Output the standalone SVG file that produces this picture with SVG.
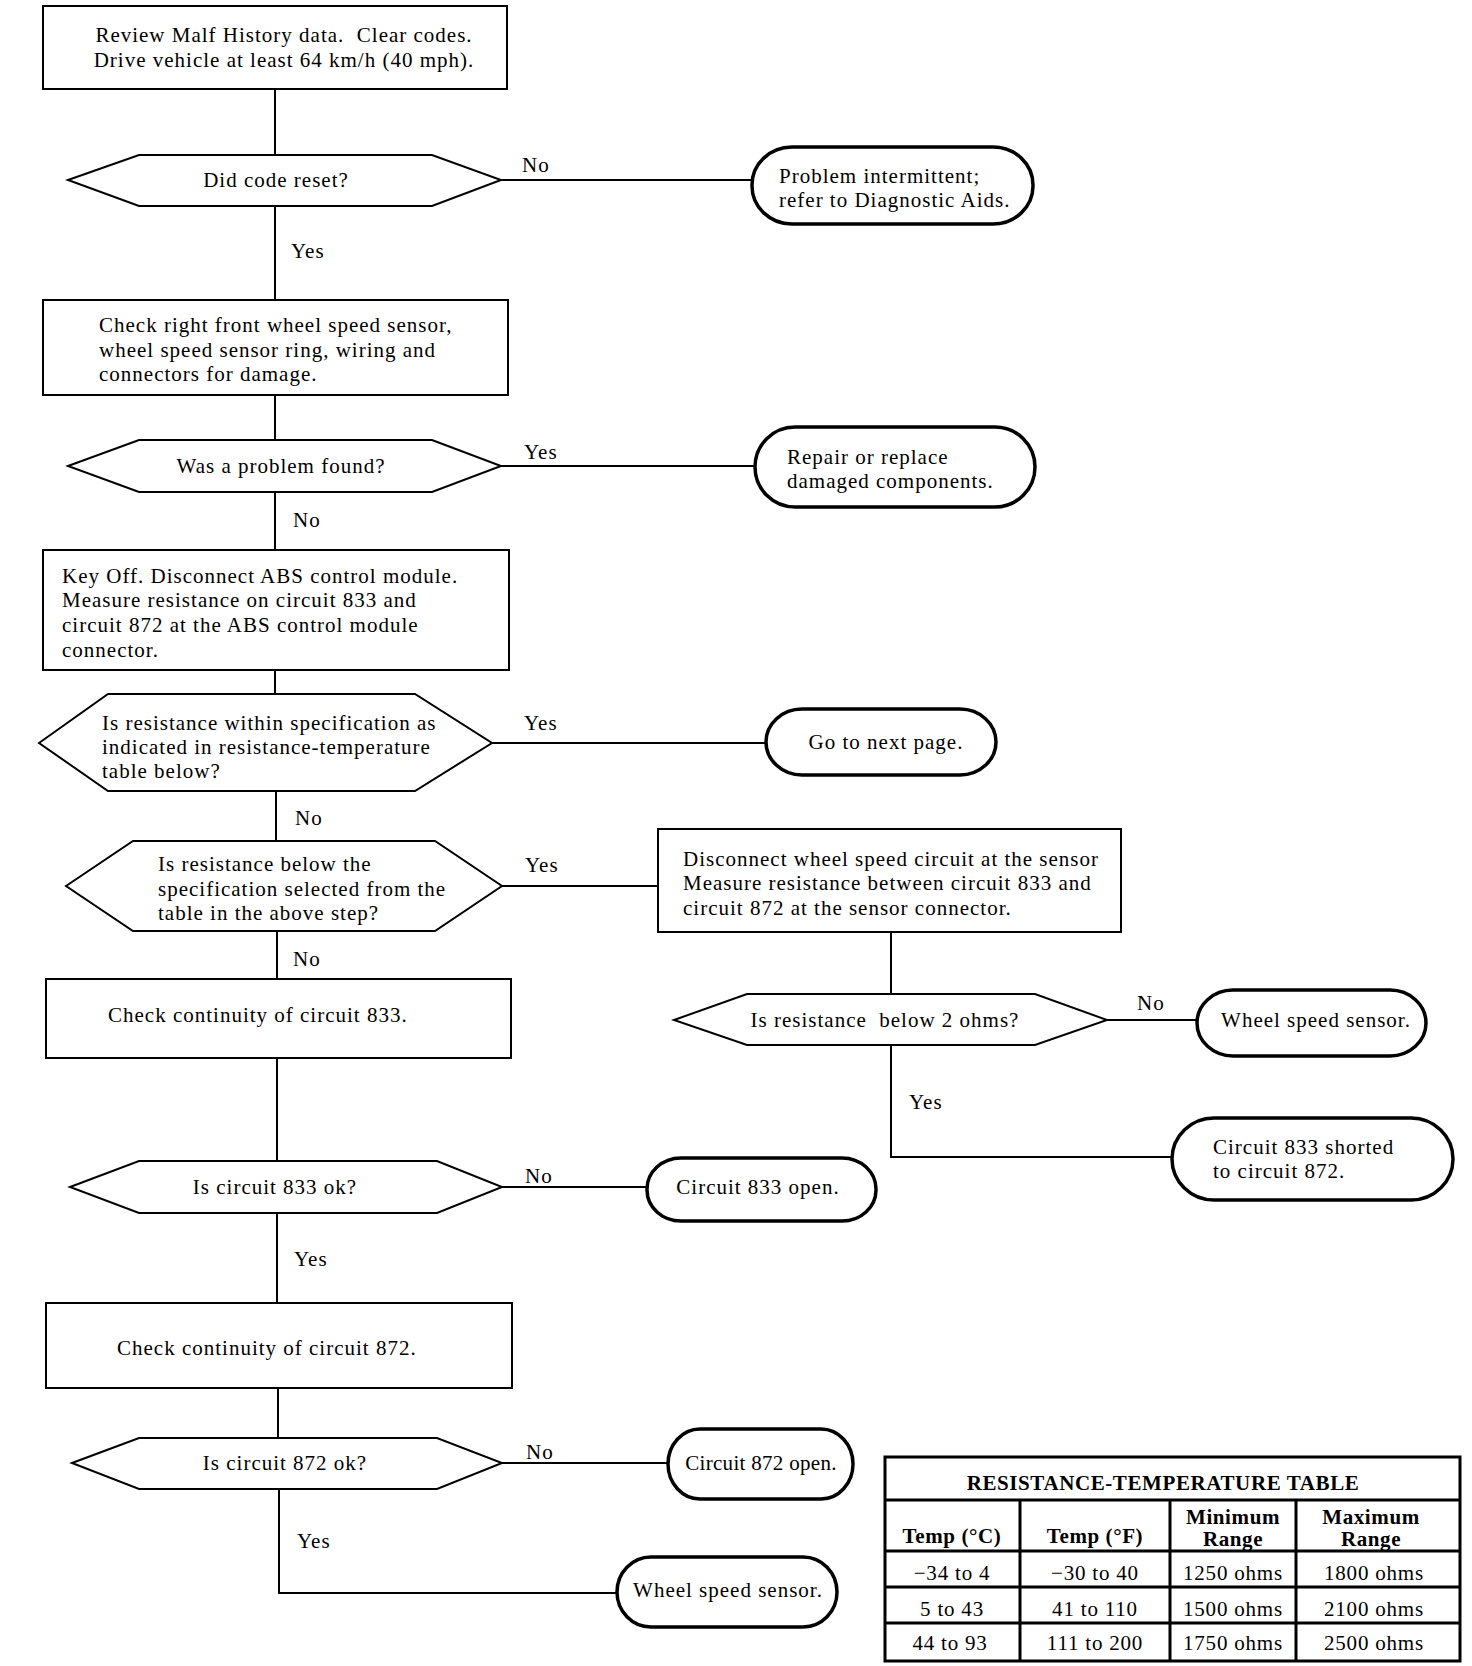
<svg xmlns="http://www.w3.org/2000/svg" width="1472" height="1666" viewBox="0 0 1472 1666">
<style>
  .bg { fill: #ffffff; }
  .box { fill: #ffffff; stroke: #000000; stroke-width: 2; }
  .hex { fill: #ffffff; stroke: #000000; stroke-width: 2; }
  .term { fill: #ffffff; stroke: #000000; stroke-width: 3.5; }
  .conn { fill: none; stroke: #000000; stroke-width: 2; }
  .tbl { fill: none; stroke: #000000; stroke-width: 3; }
  text { font-family: "Liberation Serif", "Times New Roman", serif; font-size: 21px; letter-spacing: 1px; fill: #000000; }
  .c { text-anchor: middle; }
  .b { font-weight: bold; letter-spacing: 0.6px; }
  .t { letter-spacing: 0.8px; }
</style>
<rect class="bg" x="0" y="0" width="1472" height="1666"/>

<g id="connectors">
  <path class="conn" d="M275,89 V155"/>
  <path class="conn" d="M275,206 V300"/>
  <path class="conn" d="M501,180 H752"/>
  <path class="conn" d="M275,395 V440"/>
  <path class="conn" d="M501,466 H755"/>
  <path class="conn" d="M275,492 V550"/>
  <path class="conn" d="M275,670 V694"/>
  <path class="conn" d="M492,743 H766"/>
  <path class="conn" d="M276,791 V841"/>
  <path class="conn" d="M502,886 H658"/>
  <path class="conn" d="M277,931 V979"/>
  <path class="conn" d="M891,932 V994"/>
  <path class="conn" d="M1107,1020 H1197"/>
  <path class="conn" d="M891,1045 V1157 H1172"/>
  <path class="conn" d="M277,1058 V1161"/>
  <path class="conn" d="M502,1187 H647"/>
  <path class="conn" d="M277,1213 V1303"/>
  <path class="conn" d="M278,1388 V1438"/>
  <path class="conn" d="M502,1463 H668"/>
  <path class="conn" d="M279,1489 V1593 H617"/>
  <text x="522" y="172">No</text>
  <text x="291" y="258">Yes</text>
  <text x="524" y="459">Yes</text>
  <text x="293" y="527">No</text>
  <text x="524" y="730">Yes</text>
  <text x="295" y="825">No</text>
  <text x="525" y="872">Yes</text>
  <text x="293" y="966">No</text>
  <text x="1137" y="1010">No</text>
  <text x="909" y="1109">Yes</text>
  <text x="525" y="1183">No</text>
  <text x="294" y="1266">Yes</text>
  <text x="526" y="1459">No</text>
  <text x="297" y="1548">Yes</text>
</g>

<g id="n1">
  <rect class="box" x="43" y="6" width="464" height="83"/>
  <text class="c" x="284" y="42" xml:space="preserve">Review Malf History data.  Clear codes.</text>
  <text class="c" x="284" y="67">Drive vehicle at least 64 km/h (40 mph).</text>
</g>

<g id="d1">
  <polygon class="hex" points="68,180 139,155 432,155 501,180 432,206 139,206"/>
  <text class="c" x="276" y="187">Did code reset?</text>
</g>

<g id="t1">
  <rect class="term" x="752" y="147" width="281" height="77" rx="40" ry="38"/>
  <text x="779" y="183">Problem intermittent;</text>
  <text x="779" y="207">refer to Diagnostic Aids.</text>
</g>

<g id="n2">
  <rect class="box" x="43" y="300" width="465" height="95"/>
  <text x="99" y="332">Check right front wheel speed sensor,</text>
  <text x="99" y="357">wheel speed sensor ring, wiring and</text>
  <text x="99" y="381">connectors for damage.</text>
</g>

<g id="d2">
  <polygon class="hex" points="68,466 139,440 432,440 501,466 432,492 139,492"/>
  <text class="c" x="281" y="473">Was a problem found?</text>
</g>

<g id="t2">
  <rect class="term" x="755" y="427" width="280" height="80" rx="40" ry="40"/>
  <text x="787" y="464">Repair or replace</text>
  <text x="787" y="488">damaged components.</text>
</g>

<g id="n3">
  <rect class="box" x="43" y="550" width="466" height="120"/>
  <text x="62" y="583">Key Off. Disconnect ABS control module.</text>
  <text x="62" y="607">Measure resistance on circuit 833 and</text>
  <text x="62" y="632">circuit 872 at the ABS control module</text>
  <text x="62" y="657">connector.</text>
</g>

<g id="d3">
  <polygon class="hex" points="39,743 108,694 415,694 492,743 415,791 108,791"/>
  <text x="102" y="730">Is resistance within specification as</text>
  <text x="102" y="754">indicated in resistance-temperature</text>
  <text x="102" y="778">table below?</text>
</g>

<g id="t3">
  <rect class="term" x="766" y="709" width="230" height="66" rx="36" ry="33"/>
  <text class="c" x="886" y="749">Go to next page.</text>
</g>

<g id="d4">
  <polygon class="hex" points="66,886 133,841 435,841 502,886 435,931 133,931"/>
  <text x="158" y="871">Is resistance below the</text>
  <text x="158" y="896">specification selected from the</text>
  <text x="158" y="920">table in the above step?</text>
</g>

<g id="n4">
  <rect class="box" x="658" y="829" width="463" height="103"/>
  <text x="683" y="866">Disconnect wheel speed circuit at the sensor</text>
  <text x="683" y="890">Measure resistance between circuit 833 and</text>
  <text x="683" y="915">circuit 872 at the sensor connector.</text>
</g>

<g id="d5">
  <polygon class="hex" points="674,1020 747,994 1035,994 1107,1020 1035,1045 747,1045"/>
  <text class="c" x="885" y="1027" xml:space="preserve">Is resistance  below 2 ohms?</text>
</g>

<g id="t5">
  <rect class="term" x="1197" y="990" width="229" height="66" rx="36" ry="33"/>
  <text class="c" x="1316" y="1027">Wheel speed sensor.</text>
</g>

<g id="t6">
  <rect class="term" x="1172" y="1118" width="281" height="82" rx="42" ry="41"/>
  <text x="1213" y="1154">Circuit 833 shorted</text>
  <text x="1213" y="1178">to circuit 872.</text>
</g>

<g id="n5">
  <rect class="box" x="46" y="979" width="465" height="79"/>
  <text x="108" y="1022">Check continuity of circuit 833.</text>
</g>

<g id="d6">
  <polygon class="hex" points="70,1187 139,1161 437,1161 502,1187 437,1213 139,1213"/>
  <text class="c" x="275" y="1194">Is circuit 833 ok?</text>
</g>

<g id="t7">
  <rect class="term" x="647" y="1158" width="229" height="63" rx="34" ry="31"/>
  <text class="c" x="758" y="1194">Circuit 833 open.</text>
</g>

<g id="n6">
  <rect class="box" x="46" y="1303" width="466" height="85"/>
  <text x="117" y="1355">Check continuity of circuit 872.</text>
</g>

<g id="d7">
  <polygon class="hex" points="72,1463 139,1438 437,1438 502,1463 437,1489 139,1489"/>
  <text class="c" x="285" y="1470">Is circuit 872 ok?</text>
</g>

<g id="t8">
  <rect class="term" x="668" y="1429" width="185" height="70" rx="32" ry="35"/>
  <text class="c" x="761" y="1470" style="letter-spacing:0.3px">Circuit 872 open.</text>
</g>

<g id="t9">
  <rect class="term" x="617" y="1557" width="220" height="70" rx="34" ry="35"/>
  <text class="c" x="728" y="1597">Wheel speed sensor.</text>
</g>

<g id="table">
  <rect class="tbl" x="885" y="1457" width="575" height="204"/>
  <path class="tbl" d="M885,1500 H1460 M885,1551 H1460 M885,1587 H1460 M885,1623 H1460 M1020,1500 V1661 M1170,1500 V1661 M1296,1500 V1661"/>
  <text class="c b" x="1163" y="1490">RESISTANCE-TEMPERATURE TABLE</text>
  <text class="c b" x="952" y="1543">Temp (°C)</text>
  <text class="c b" x="1095" y="1543">Temp (°F)</text>
  <text class="c b" x="1233" y="1524">Minimum</text>
  <text class="c b" x="1233" y="1546">Range</text>
  <text class="c b" x="1371" y="1524">Maximum</text>
  <text class="c b" x="1371" y="1546">Range</text>
  <text class="c t" x="952" y="1580">−34 to 4</text>
  <text class="c t" x="1095" y="1580">−30 to 40</text>
  <text class="c t" x="1233" y="1580">1250 ohms</text>
  <text class="c t" x="1374" y="1580">1800 ohms</text>
  <text class="c t" x="952" y="1616">5 to 43</text>
  <text class="c t" x="1095" y="1616">41 to 110</text>
  <text class="c t" x="1233" y="1616">1500 ohms</text>
  <text class="c t" x="1374" y="1616">2100 ohms</text>
  <text class="c t" x="950" y="1650">44 to 93</text>
  <text class="c t" x="1095" y="1650">111 to 200</text>
  <text class="c t" x="1233" y="1650">1750 ohms</text>
  <text class="c t" x="1374" y="1650">2500 ohms</text>
</g>
</svg>
